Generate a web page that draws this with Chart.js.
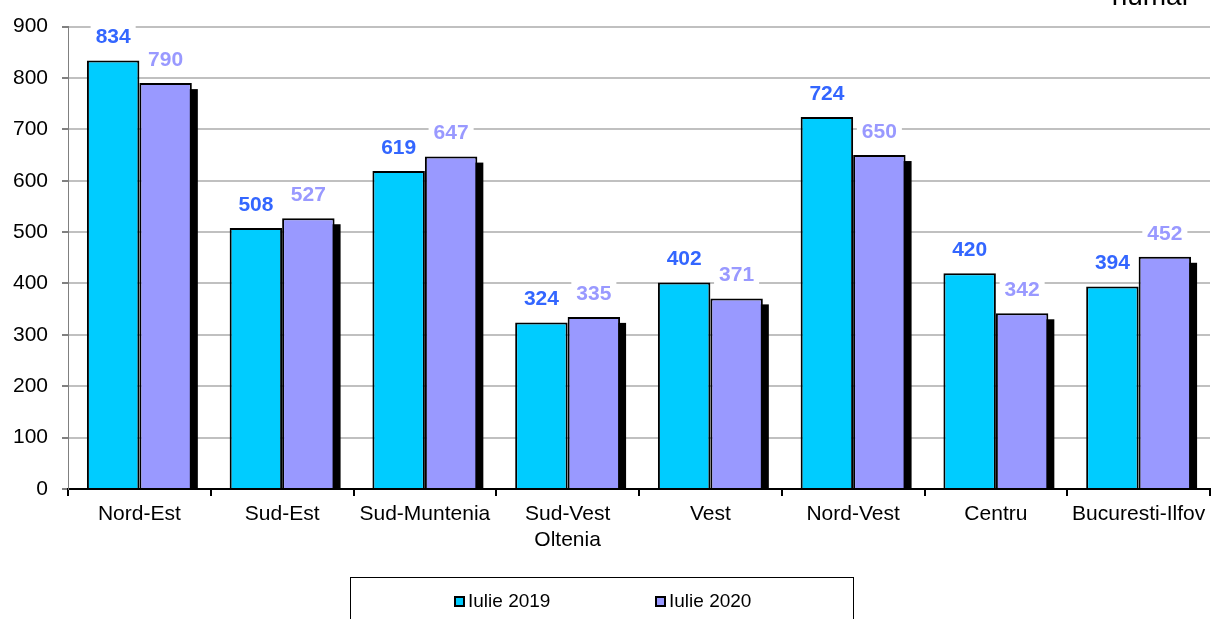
<!DOCTYPE html>
<html>
<head>
<meta charset="utf-8">
<script src="https://cdn.jsdelivr.net/npm/chart.js@4/dist/chart.umd.min.js"></script>
<style>
  html, body { margin: 0; padding: 0; overflow: hidden; background: #fff; }
  #wrap { position: relative; width: 1213px; height: 660px; }
  #unit { position: absolute; top: -20px; right: 22px; font: 28px Arial, "Liberation Sans", sans-serif; color: #000; line-height: 32px; }
</style>
</head>
<body>
<div id="wrap">
  <canvas id="c"></canvas>
  <div id="unit">număr</div>
</div>
<script>
// categories and series
const regions = ['Nord-Est', 'Sud-Est', 'Sud-Muntenia', ['Sud-Vest', 'Oltenia'], 'Vest', 'Nord-Vest', 'Centru', 'Bucuresti-Ilfov'];
const seriesNames = ['Iulie 2019', 'Iulie 2020'];
const iulie2019 = [834, 508, 619, 324, 402, 724, 420, 394];
const iulie2020 = [790, 527, 647, 335, 371, 650, 342, 452];
const yTicks = [0, 100, 200, 300, 400, 500, 600, 700, 800, 900];

const FONT = 'Arial, "Liberation Sans", sans-serif';
const fills = ['#00ccff', '#9999ff'];
const labelColors = ['#3366ff', '#9999ff'];

// black drop shadow behind the right-hand bar of each pair
const shadowPlugin = {
  id: 'shadow',
  beforeDatasetsDraw(chart) {
    const ctx = chart.ctx;
    ctx.save();
    ctx.fillStyle = '#000';
    chart.getDatasetMeta(1).data.forEach(bar => {
      const w = bar.width;
      ctx.fillRect(bar.x - w / 2 + 6, bar.y + 6, w, bar.base - bar.y - 6);
    });
    ctx.restore();
  }
};

// value labels on white boxes
const valuePlugin = {
  id: 'values',
  afterDatasetsDraw(chart) {
    const ctx = chart.ctx;
    ctx.save();
    ctx.font = 'bold 21px ' + FONT;
    ctx.textAlign = 'center';
    ctx.textBaseline = 'middle';
    chart.data.datasets.forEach((ds, i) => {
      chart.getDatasetMeta(i).data.forEach((bar, j) => {
        const txt = String(ds.data[j]);
        const y = bar.y - 24;
        const tw = ctx.measureText(txt).width;
        ctx.fillStyle = '#fff';
        ctx.fillRect(bar.x - tw / 2 - 5, y - 12, tw + 10, 24);
        ctx.fillStyle = labelColors[i];
        ctx.fillText(txt, bar.x, y + 1);
      });
    });
    ctx.restore();
  }
};

// framed legend at the bottom
const legendPlugin = {
  id: 'boxLegend',
  afterDraw(chart) {
    const ctx = chart.ctx;
    ctx.save();
    ctx.strokeStyle = '#000';
    ctx.lineWidth = 1;
    ctx.strokeRect(350.5, 577.5, 503, 70);
    const xs = [454, 655];
    ctx.font = '19px ' + FONT;
    ctx.textBaseline = 'middle';
    ctx.textAlign = 'left';
    chart.data.datasets.forEach((ds, i) => {
      ctx.fillStyle = '#000';
      ctx.fillRect(xs[i], 596, 11, 11);
      ctx.fillStyle = fills[i];
      ctx.fillRect(xs[i] + 2, 598, 7, 7);
      ctx.fillStyle = '#000';
      ctx.fillText(ds.label, xs[i] + 14, 602);
    });
    ctx.restore();
  }
};

new Chart(document.getElementById('c'), {
  type: 'bar',
  data: {
    labels: regions,
    datasets: [
      { label: seriesNames[0], data: iulie2019, backgroundColor: fills[0], borderColor: '#000', borderWidth: 2, borderSkipped: 'bottom' },
      { label: seriesNames[1], data: iulie2020, backgroundColor: fills[1], borderColor: '#000', borderWidth: 2, borderSkipped: 'bottom' }
    ]
  },
  options: {
    responsive: true,
    maintainAspectRatio: false,
    animation: false,
    layout: { padding: { top: 26, right: 3, left: 0, bottom: 0 } },
    datasets: { bar: { barPercentage: 1, categoryPercentage: 0.735 } },
    plugins: { legend: { display: false }, tooltip: { enabled: false } },
    scales: {
      x: {
        offset: true,
        grid: { offset: true, drawOnChartArea: false, drawTicks: true, tickLength: 7, tickColor: '#000', lineWidth: 2 },
        border: { color: '#000', width: 2 },
        ticks: { color: '#000', font: { family: FONT, size: 21 }, padding: 6, maxRotation: 0, autoSkip: false },
        afterFit(s) { s.height = 660 - 489; }
      },
      y: {
        min: 0, max: 900,
        afterBuildTicks(s) { s.ticks = yTicks.map(v => ({ value: v })); },
        grid: { color: '#c0c0c0', lineWidth: 2, tickLength: 6, tickColor: '#808080' },
        border: { color: '#808080', width: 1 },
        ticks: { color: '#000', font: { family: FONT, size: 21 }, padding: 14 },
        afterFit(s) { s.width = 68; }
      }
    }
  },
  plugins: [shadowPlugin, valuePlugin, legendPlugin]
});
</script>
</body>
</html>
